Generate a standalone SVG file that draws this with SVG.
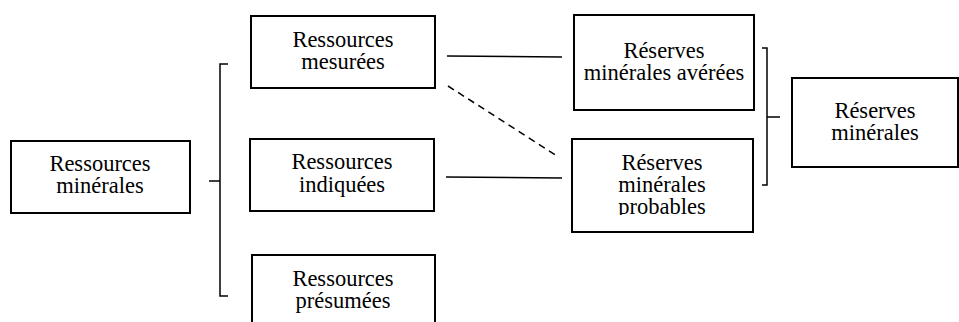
<svg xmlns="http://www.w3.org/2000/svg" width="959" height="322" viewBox="0 0 959 322">
<style>
.box{fill:#fff;stroke:#000;stroke-width:2}
.t{font-family:'Liberation Serif','DejaVu Serif',serif;font-size:22.5px;fill:#000;text-anchor:middle}
.ln{stroke:#000;stroke-width:1.5;fill:none}
.dash{stroke-dasharray:7,5}
</style>
<defs>
<clipPath id="clipProb"><rect x="572" y="139" width="181" height="76"/></clipPath>
</defs>
<rect width="959" height="322" fill="#fff"/>
<g id="connectors">
<path class="ln" d="M228,64 H220 V296 H228 M209,181 H220"/>
<path class="ln" d="M762,48 H767 V185 H762 M767,117 H780"/>
<line class="ln" x1="447" y1="56" x2="562" y2="57"/>
<line class="ln dash" x1="448" y1="86" x2="557" y2="156"/>
<line class="ln" x1="446" y1="177" x2="562" y2="178"/>
</g>
<g id="ressources-minerales">
<rect class="box" x="11" y="141" width="179" height="72"/>
<text class="t" font-family="Liberation Serif, serif" x="100" y="171">Ressources</text>
<text class="t" font-family="Liberation Serif, serif" x="100" y="193">minérales</text>
</g>
<g id="ressources-mesurees">
<rect class="box" x="251" y="16" width="184" height="72"/>
<text class="t" font-family="Liberation Serif, serif" x="343" y="47">Ressources</text>
<text class="t" font-family="Liberation Serif, serif" x="343" y="69">mesurées</text>
</g>
<g id="ressources-indiquees">
<rect class="box" x="250" y="139" width="184" height="72"/>
<text class="t" font-family="Liberation Serif, serif" x="342" y="169">Ressources</text>
<text class="t" font-family="Liberation Serif, serif" x="342" y="192">indiquées</text>
</g>
<g id="ressources-presumees">
<rect class="box" x="252" y="255" width="183" height="80"/>
<text class="t" font-family="Liberation Serif, serif" x="343" y="286">Ressources</text>
<text class="t" font-family="Liberation Serif, serif" x="343" y="308">présumées</text>
</g>
<g id="reserves-averees">
<rect class="box" x="574" y="15" width="180" height="95"/>
<text class="t" font-family="Liberation Serif, serif" x="664" y="58">Réserves</text>
<text class="t" font-family="Liberation Serif, serif" x="664" y="80">minérales avérées</text>
</g>
<g id="reserves-probables">
<rect class="box" x="572" y="139" width="181" height="93"/>
<g clip-path="url(#clipProb)">
<text class="t" font-family="Liberation Serif, serif" x="662" y="170">Réserves</text>
<text class="t" font-family="Liberation Serif, serif" x="662" y="192">minérales</text>
<text class="t" font-family="Liberation Serif, serif" x="662" y="214">probables</text>
</g>
</g>
<g id="reserves-minerales">
<rect class="box" x="792" y="78" width="166" height="89"/>
<text class="t" font-family="Liberation Serif, serif" x="875" y="118">Réserves</text>
<text class="t" font-family="Liberation Serif, serif" x="875" y="140">minérales</text>
</g>
</svg>
